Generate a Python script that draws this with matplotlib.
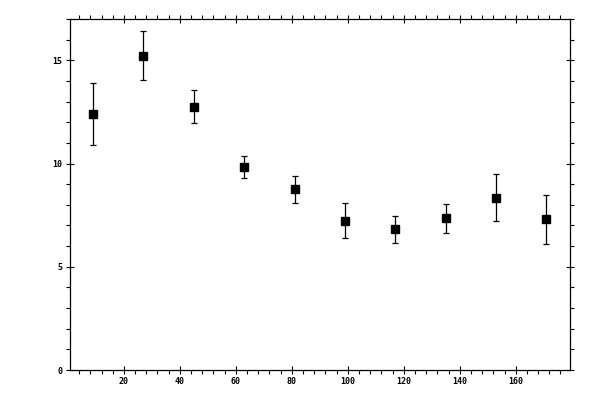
import matplotlib
matplotlib.use('Agg')
import matplotlib.pyplot as plt
from matplotlib.ticker import MultipleLocator

# bin centres and measured values with symmetric errors
x_vals = [9, 27, 45, 63, 81, 99, 117, 135, 153, 171]
y_vals = [12.42, 15.23, 12.76, 9.85, 8.76, 7.24, 6.81, 7.34, 8.35, 7.29]
y_errs = [1.50, 1.20, 0.78, 0.53, 0.66, 0.87, 0.65, 0.69, 1.14, 1.19]

x_ticks = [20, 40, 60, 80, 100, 120, 140, 160]
y_ticks = [0, 5, 10, 15]

fig = plt.figure(figsize=(6, 4), dpi=100)
ax = fig.add_axes([0.116, 0.075, 0.834, 0.8775])  # llx, lly, w, h

ax.errorbar(x_vals, y_vals, yerr=y_errs, fmt='s', color='black',
            markersize=6, elinewidth=0.9, capsize=2, capthick=0.9)

ax.set_xlim(0.6, 179.4)
ax.set_ylim(0, 17)
ax.set_xticks(x_ticks)
ax.set_yticks(y_ticks)
ax.xaxis.set_minor_locator(MultipleLocator(4))
ax.yaxis.set_minor_locator(MultipleLocator(1))

for side in ax.spines.values():
    side.set_linewidth(0.9)

ax.tick_params(which='major', direction='inout', length=6, width=0.8,
               top=True, right=True, labelsize=6, pad=2)
ax.tick_params(which='minor', direction='out', length=3, width=0.8,
               top=True, right=True)

for lbl in ax.get_xticklabels() + ax.get_yticklabels():
    lbl.set_fontfamily('DejaVu Sans Mono')
    lbl.set_fontweight('bold')

fig.savefig('out.png', dpi=100)
